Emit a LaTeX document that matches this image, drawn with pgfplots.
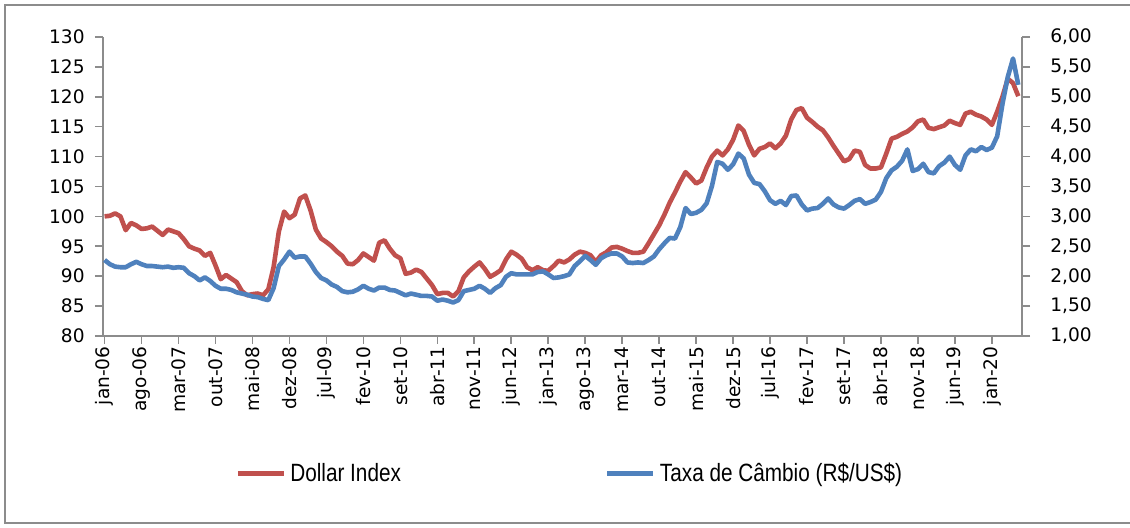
\documentclass[border=0pt]{standalone}
\usepackage{fontspec}
\setmainfont{DejaVu Sans}
\newfontfamily\legfont[FakeStretch=0.83]{Liberation Sans}
\usepackage{pgfplots}
\usepackage{pgfplotstable}
\pgfplotsset{compat=1.18}
\definecolor{dxred}{HTML}{C0504D}
\definecolor{fxblue}{HTML}{4F81BD}
\definecolor{axisgray}{HTML}{8C8C8C}

% month index (0 = jan-06), dollar index, BRL/USD
\pgfplotstableread{
i dxy brl
0 100.0 2.27
1 100.1 2.20
2 100.5 2.16
3 100.0 2.15
4 97.7 2.15
5 98.9 2.20
6 98.5 2.24
7 97.9 2.20
8 98.0 2.17
9 98.3 2.17
10 97.6 2.16
11 96.9 2.15
12 97.8 2.16
13 97.5 2.14
14 97.2 2.15
15 96.2 2.14
16 95.0 2.05
17 94.6 2.00
18 94.3 1.93
19 93.4 1.98
20 93.9 1.92
21 91.8 1.84
22 89.5 1.79
23 90.2 1.79
24 89.6 1.77
25 89.0 1.73
26 87.5 1.71
27 86.8 1.69
28 87.0 1.66
29 87.1 1.65
30 86.8 1.62
31 87.8 1.60
32 91.5 1.80
33 97.5 2.17
34 100.8 2.28
35 99.7 2.41
36 100.3 2.31
37 103.0 2.33
38 103.5 2.33
39 101.0 2.21
40 97.8 2.07
41 96.3 1.97
42 95.7 1.93
43 95.0 1.86
44 94.1 1.82
45 93.4 1.75
46 92.1 1.73
47 92.0 1.74
48 92.7 1.78
49 93.8 1.84
50 93.2 1.79
51 92.6 1.76
52 95.6 1.81
53 96.0 1.81
54 94.6 1.77
55 93.5 1.76
56 93.0 1.72
57 90.4 1.68
58 90.6 1.71
59 91.1 1.69
60 90.7 1.67
61 89.6 1.67
62 88.5 1.66
63 87.0 1.59
64 87.2 1.61
65 87.2 1.59
66 86.6 1.56
67 87.5 1.60
68 89.8 1.75
69 90.8 1.77
70 91.6 1.79
71 92.3 1.84
72 91.2 1.79
73 89.9 1.72
74 90.4 1.80
75 91.0 1.85
76 92.8 1.99
77 94.1 2.05
78 93.6 2.03
79 92.9 2.03
80 91.5 2.03
81 91.0 2.03
82 91.5 2.07
83 91.0 2.08
84 90.9 2.03
85 91.7 1.97
86 92.6 1.98
87 92.3 2.00
88 92.8 2.03
89 93.6 2.17
90 94.1 2.25
91 93.9 2.34
92 93.5 2.27
93 92.4 2.19
94 93.5 2.30
95 94.0 2.35
96 94.8 2.38
97 94.9 2.38
98 94.6 2.33
99 94.2 2.23
100 93.9 2.22
101 93.9 2.23
102 94.1 2.22
103 95.5 2.27
104 97.0 2.33
105 98.5 2.45
106 100.3 2.55
107 102.3 2.64
108 104.0 2.63
109 105.8 2.82
110 107.4 3.14
111 106.5 3.04
112 105.5 3.06
113 106.0 3.11
114 108.2 3.22
115 110.0 3.51
116 111.0 3.91
117 110.2 3.88
118 111.2 3.78
119 112.8 3.87
120 115.2 4.05
121 114.3 3.97
122 112.0 3.70
123 110.2 3.56
124 111.3 3.54
125 111.6 3.42
126 112.2 3.27
127 111.4 3.21
128 112.2 3.26
129 113.5 3.19
130 116.2 3.34
131 117.8 3.35
132 118.1 3.20
133 116.5 3.10
134 115.8 3.13
135 115.0 3.14
136 114.4 3.21
137 113.2 3.30
138 111.8 3.20
139 110.5 3.15
140 109.2 3.13
141 109.6 3.19
142 111.0 3.26
143 110.8 3.29
144 108.6 3.21
145 108.0 3.24
146 108.0 3.28
147 108.2 3.41
148 110.5 3.64
149 113.0 3.77
150 113.3 3.83
151 113.8 3.93
152 114.2 4.12
153 114.9 3.76
154 115.9 3.79
155 116.2 3.88
156 114.8 3.74
157 114.6 3.72
158 114.9 3.84
159 115.2 3.90
160 116.0 4.00
161 115.6 3.86
162 115.3 3.78
163 117.2 4.02
164 117.5 4.12
165 117.0 4.09
166 116.7 4.16
167 116.2 4.11
168 115.3 4.15
169 117.5 4.34
170 120.0 4.88
171 123.0 5.33
172 122.3 5.64
173 120.1 5.20
}\series

\begin{document}
\begin{tikzpicture}[x=1pt,y=1pt]
\useasboundingbox (0,0) rectangle (565,264);
\draw[axisgray, line width=1pt] (566,2.5) -- (2.5,2.5) -- (2.5,261.5) -- (566,261.5);

\pgfplotsset{
  common/.style={
    at={(51.5pt,96pt)}, anchor=south west,
    scale only axis, width=459.5pt, height=149.5pt,
    xmin=-0.3, xmax=173.7,
    axis line style={-, draw=axisgray, line width=0.8pt},
    tick align=outside, major tick length=4pt,
    tick style={axisgray, line width=0.8pt},
    ticklabel style={font=\fontsize{9.3}{10}\selectfont},
    /pgf/number format/assume math mode=true,
  },
}

\begin{axis}[common,
  ymin=80, ymax=130, ytick={80,85,...,130},
  axis x line*=bottom, axis y line*=left,
  xtick={0,7,...,168},
  xticklabels={jan-06,ago-06,mar-07,out-07,mai-08,dez-08,jul-09,fev-10,set-10,abr-11,nov-11,jun-12,jan-13,ago-13,mar-14,out-14,mai-15,dez-15,jul-16,fev-17,set-17,abr-18,nov-18,jun-19,jan-20},
  xticklabel style={rotate=90, anchor=east, inner sep=1pt},
  yticklabel style={inner sep=1pt, xshift=-4pt},
]
\addplot[dxred, line width=2.3pt, line join=round] table[x=i, y=dxy] {\series};
\end{axis}

\begin{axis}[common,
  ymin=1, ymax=6, ytick={1,1.5,...,6},
  axis y line*=right, axis x line=none,
  yticklabel style={inner sep=1pt, xshift=9pt,
    /pgf/number format/.cd, fixed, fixed zerofill, precision=2, use comma},
  legend columns=2,
  legend style={at={(0.1435,-0.4615)}, anchor=west, draw=none, fill=none,
    inner sep=0pt, font=\legfont\fontsize{12.5}{14}\selectfont,
    /tikz/every even column/.append style={column sep=100pt}},
  legend image code/.code={\draw[#1, line width=2.5pt] (0pt,0pt) -- (23pt,0pt);},
]
\addlegendimage{dxred}
\addlegendentry{Dollar Index}
\addplot[fxblue, line width=2.3pt, line join=round] table[x=i, y=brl] {\series};
\addlegendentry{Taxa de Câmbio (R\$/US\$)}
\end{axis}
\end{tikzpicture}
\end{document}
